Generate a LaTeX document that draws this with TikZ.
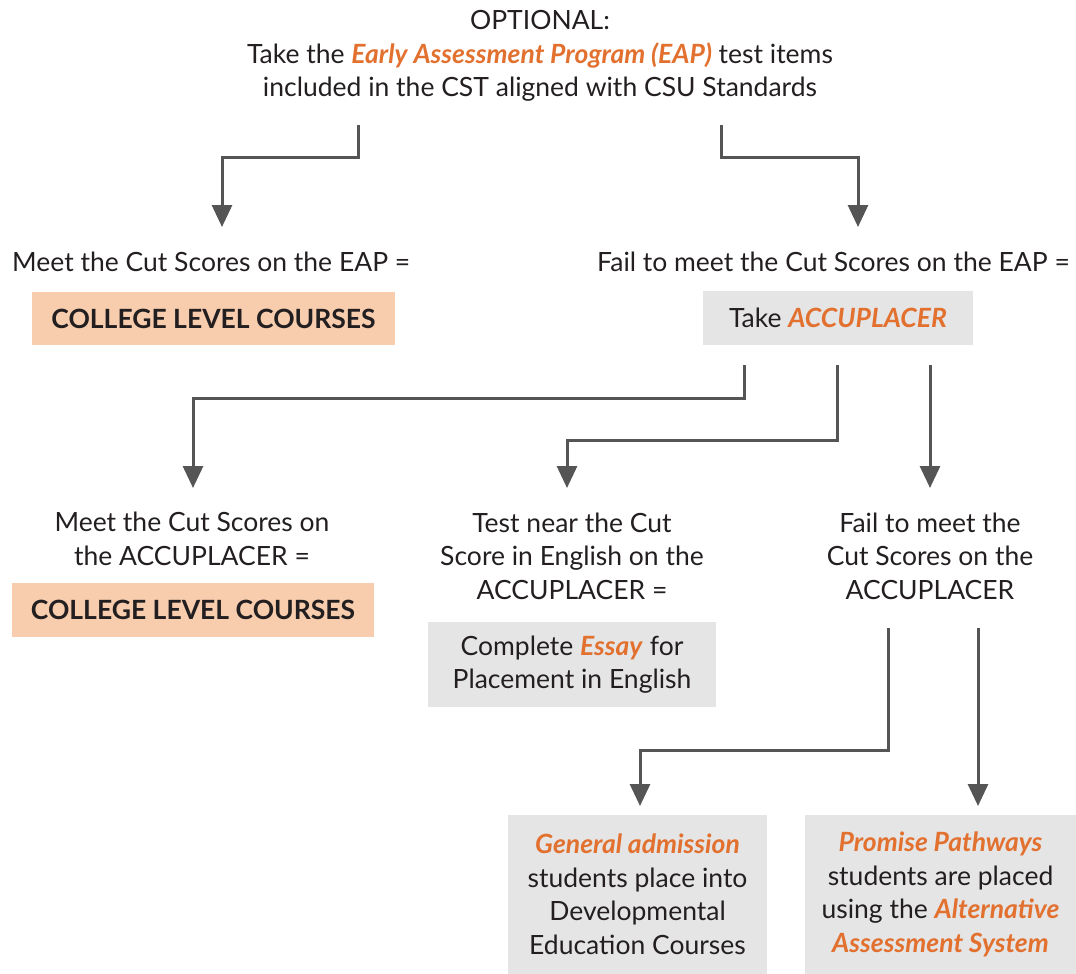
\documentclass[tikz,border=0pt]{standalone}
\usepackage{fontspec}
\setmainfont{Lato}
\usetikzlibrary{arrows.meta}
\definecolor{orng}{HTML}{E2702F}
\definecolor{peach}{HTML}{F8CDAE}
\definecolor{lgray}{HTML}{E5E5E5}
\definecolor{arr}{HTML}{555555}
\definecolor{txt}{HTML}{231F20}
\newcommand{\hl}[1]{\textcolor{orng}{\textbf{\textit{#1}}}}
\tikzset{
  lbl/.style={font=\fontsize{26.5}{33.5}\selectfont, text=txt, align=center, inner sep=0pt},
  peachbox/.style={fill=peach, inner sep=0pt, font=\fontsize{26.5}{33.5}\selectfont\bfseries, text=txt},
  graybox/.style={fill=lgray, inner sep=0pt, font=\fontsize{26.5}{33.5}\selectfont, text=txt, align=center},
  conn/.style={draw=arr, line width=3pt, -{Triangle[length=22pt,width=20pt]}},
}
\begin{document}
\begin{tikzpicture}[x=1pt,y=-1pt]
\useasboundingbox (0,0) rectangle (1076,974);
% top
\node[lbl] (top) at (540,56) {OPTIONAL:\\Take the \hl{Early Assessment Program (EAP)} test items\\included in the CST aligned with CSU Standards};
\coordinate (t1) at (358,125);
\coordinate (t2) at (721,125);
% level 2
\node[lbl, anchor=west] (meet1) at (12,262) {Meet the Cut Scores on the EAP =};
\node[lbl, anchor=east] (fail1) at (1070,262) {Fail to meet the Cut Scores on the EAP =};
\node[peachbox, minimum width=363pt, minimum height=53pt] (clc1) at (213.5,318.5) {COLLEGE LEVEL COURSES};
\node[graybox, minimum width=270pt, minimum height=54pt] (acc) at (838,318) {Take \hl{ACCUPLACER}};
\draw[conn] (t1) -- (358,157) -- (222,157) -- (222,227);
\draw[conn] (t2) -- (721,157) -- (858,157) -- (858,227);
% level 3
\coordinate (a1) at (744,365);
\coordinate (a2) at (837,365);
\coordinate (a3) at (930,365);
\draw[conn] (a1) -- (744,398) -- (193,398) -- (193,488);
\draw[conn] (a2) -- (837,440) -- (567,440) -- (567,488);
\draw[conn] (a3) -- (930,488);
\node[lbl] (meet2) at (192,539) {Meet the Cut Scores on\\the ACCUPLACER =};
\node[peachbox, minimum width=362pt, minimum height=54pt] (clc2) at (193,610) {COLLEGE LEVEL COURSES};
\node[lbl] (near) at (572,556) {Test near the Cut\\Score in English on the\\ACCUPLACER =};
\node[graybox, minimum width=288pt, minimum height=85pt] (essay) at (572,664.5) {Complete \hl{Essay} for\\Placement in English};
\node[lbl] (fail2) at (930,556) {Fail to meet the\\Cut Scores on the\\ACCUPLACER};
% level 4
\coordinate (f1) at (888,628);
\coordinate (f2) at (978,628);
\draw[conn] (f1) -- (888,750) -- (640,750) -- (640,806);
\draw[conn] (f2) -- (978,806);
\node[graybox, minimum width=259pt, minimum height=159pt] (gen) at (637.5,894.5) {\hl{General admission}\\students place into\\Developmental\\Education Courses};
\node[graybox, minimum width=271pt, minimum height=159pt] (prom) at (940.5,894.5) {\hl{Promise Pathways}\\students are placed\\using the \hl{Alternative}\\\hl{Assessment System}};
\end{tikzpicture}
\end{document}
